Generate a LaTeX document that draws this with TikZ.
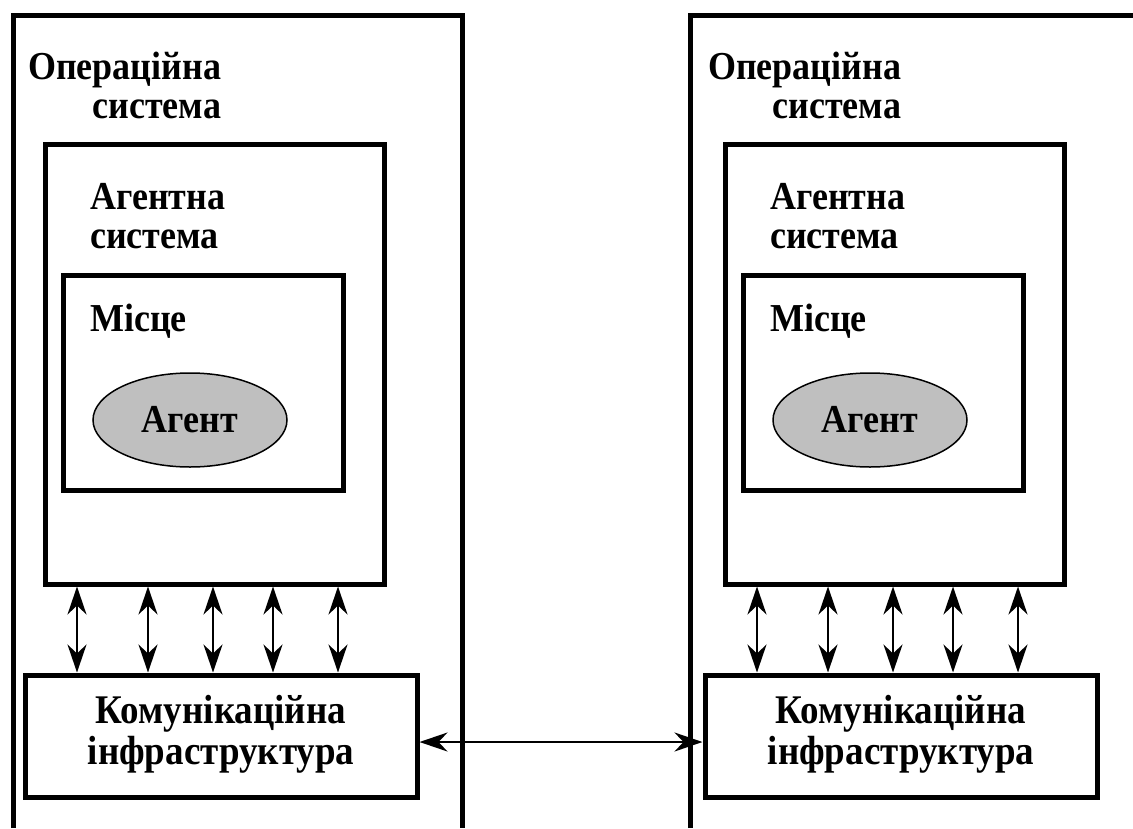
\documentclass[tikz,border=0pt]{standalone}
\usepackage{fontspec}
\setmainfont{Liberation Serif}[BoldFont={Liberation Serif Bold}]
\usetikzlibrary{arrows.meta, shapes.geometric}
\newcommand{\lblfont}{\fontsize{36}{36}\selectfont\bfseries}
\newcommand{\tall}[1]{\scalebox{1}[1.1]{#1}}

\begin{document}
\begin{tikzpicture}[x=1pt, y=-1pt,
    frame/.style={draw, line width=5pt},
    box/.style={draw, line width=5pt, inner sep=0pt},
    agent/.style={ellipse, draw, line width=1.5pt, fill=black!25, minimum width=194pt, minimum height=94pt, inner sep=0pt, font=\lblfont},
    lbl/.style={inner sep=0pt, font=\lblfont},
    arr/.style={{Stealth[length=28pt, width=19pt, inset=9pt]}-{Stealth[length=28pt, width=19pt, inset=9pt]}, line width=2.2pt}]
  \useasboundingbox (0,0) rectangle (1133,828);
  % operating system frames
  \draw[frame] (13,828) -- (13,15) -- (462,15) -- (462,828);
  \draw[frame] (690,828) -- (690,15) -- (1133,15);
  \foreach \s/\dx in {L/0, R/680} {
    \node[lbl, anchor=base west] (os\s) at (28+\dx, 79) {\tall{\begin{tabular}[t]{@{}r@{}}Операційна\\система\end{tabular}}};
    \node[box, minimum width=339pt, minimum height=440pt] (as\s) at (214.5+\dx, 364) {};
    \node[lbl, anchor=base west] (ast\s) at (90+\dx, 209) {\tall{\begin{tabular}[t]{@{}l@{}}Агентна\\система\end{tabular}}};
    \node[box, minimum width=280pt, minimum height=215pt] (pl\s) at (203+\dx, 382.5) {};
    \node[lbl, anchor=base west] (plt\s) at (90+\dx, 331) {\tall{Місце}};
    \node[agent] (ag\s) at (190+\dx, 420) {\tall{Агент}};
    \node[box, minimum width=392pt, minimum height=122pt, font=\fontsize{37}{37.5}\selectfont\bfseries] (ci\s) at (221+\dx, 736) {\tall{\begin{tabular}{@{}c@{}}Комунікаційна\\інфраструктура\end{tabular}}};
    % links between agent system and infrastructure
    \foreach \ax in {34.5,105.5,170.5,230.5,295.5}
      \draw[arr] ([xshift=\ax pt]as\s.south west) -- ([xshift=\ax pt]as\s.south west |- ci\s.north);
  }
  \draw[arr] ([yshift=-6pt]ciL.east) -- ([yshift=-6pt]ciR.west);
\end{tikzpicture}
\end{document}
